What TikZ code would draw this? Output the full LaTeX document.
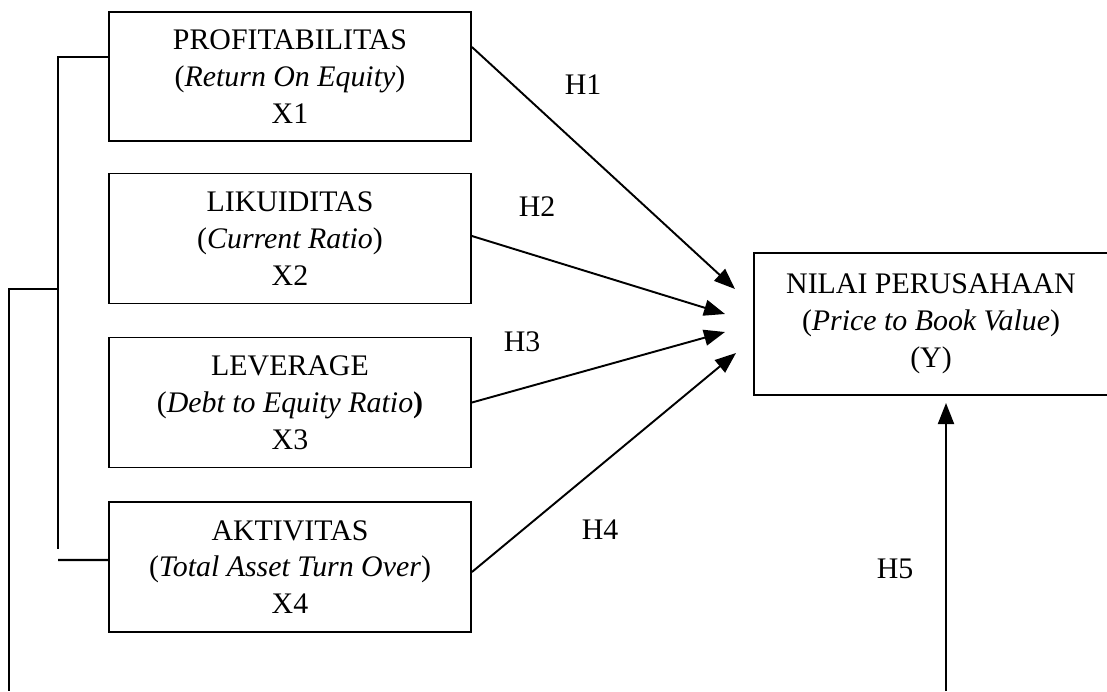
\documentclass[tikz,border=0pt]{standalone}
\usepackage{fontspec}
\setmainfont{Liberation Serif}
\usetikzlibrary{arrows.meta, positioning}

\begin{document}
\begin{tikzpicture}[
    x=0.02cm, y=-0.02cm,
    box/.style={draw, line width=1.1pt, rectangle, minimum width=7.24cm, minimum height=2.6cm, align=center, inner sep=0pt, font=\fontsize{17}{21}\selectfont},
    hlabel/.style={font=\fontsize{17}{21}\selectfont, inner sep=0pt},
    arr/.style={-{Triangle[length=0.42cm, width=0.32cm]}, line width=1.1pt},
    link/.style={line width=1.2pt}
]
\useasboundingbox (0,0) rectangle (1107,691);

% Independent variables
\node[box, minimum height=2.58cm] (x1) at (290,76.5) {PROFITABILITAS\\(\textit{Return On Equity})\\X1};
\node[box] (x2) at (290,238.5) {LIKUIDITAS\\(\textit{Current Ratio})\\X2};
\node[box] (x3) at (290,402.5) {LEVERAGE\\(\textit{Debt to Equity Ratio}\textbf{)}\\X3};
\node[box] (x4) at (290,567) {AKTIVITAS\\(\textit{Total Asset Turn Over})\\X4};

% Dependent variable
\node[box, minimum width=7.08cm, minimum height=2.84cm] (y) at (931,324) {NILAI PERUSAHAAN\\(\textit{Price to Book Value})\\(Y)};

% Arrow tips and free ends
\coordinate (t1) at (735,289);
\coordinate (t2) at (725,314);
\coordinate (t3) at (725,332);
\coordinate (t4) at (736,353);
\coordinate (t5) at (946,403);
\coordinate (foot) at (946,691);

% Partial hypotheses
\draw[arr] ([yshift=0.59cm]x1.east) -- (t1);
\draw[arr] ([yshift=0.05cm]x2.east) -- (t2);
\draw[arr] (x3.east) -- (t3);
\draw[arr] ([yshift=-0.1cm]x4.east) -- (t4);

% Simultaneous hypothesis
\draw[arr] (foot) -- (t5);

% Labels
\node[hlabel] (h1) at (583,85) {H1};
\node[hlabel] (h2) at (537,207) {H2};
\node[hlabel] (h3) at (522,342) {H3};
\node[hlabel] (h4) at (600,530) {H4};
\node[hlabel] (h5) at (895,569) {H5};

% Bracket joining X1..X4
\coordinate (brbot) at (58,549);
\coordinate (brjoin) at (58,560);
\coordinate (brmid) at (58,289);
\coordinate (outbot) at (9,691);
\draw[link] ([yshift=0.39cm]x1.west) -| (brbot);
\draw[link] (brjoin) -- ([yshift=0.14cm]x4.west);
\draw[link] (brmid) -| (outbot);

\end{tikzpicture}
\end{document}
